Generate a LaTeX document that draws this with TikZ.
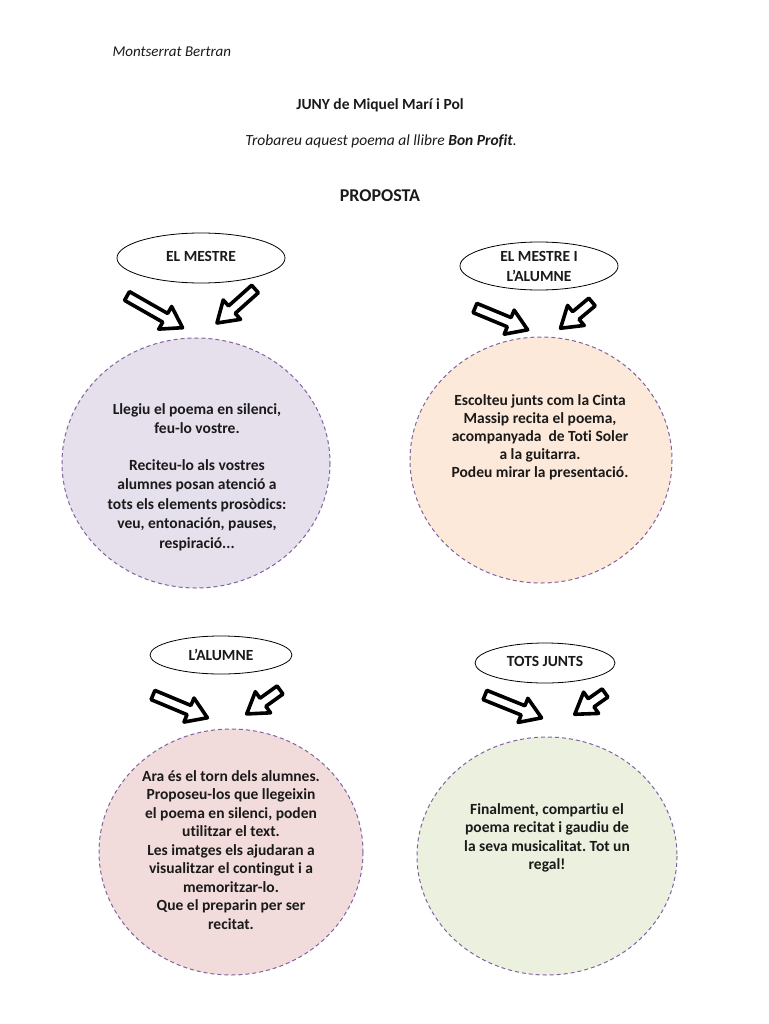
\documentclass[tikz,border=0pt]{standalone}
\usepackage{fontspec}
\setmainfont{Carlito}[Ligatures=NoCommon]
\usetikzlibrary{shapes.geometric}
\frenchspacing
\definecolor{dashc}{HTML}{8064A2}
\definecolor{fpurple}{HTML}{E5E0EC}
\definecolor{forange}{HTML}{FDE9D9}
\definecolor{fpink}{HTML}{F2DCDB}
\definecolor{fgreen}{HTML}{EBF1DE}
\definecolor{txt}{HTML}{1A1A1A}
\newcommand{\blockarr}[4]{%
  \begin{scope}[shift={(#1,#2)},rotate=#3,y=1pt]
    \draw[line width=3.6pt,line join=round,fill=white]
      (0,-5) -- ({#4-20},-5) -- ({#4-20},-13) -- (#4,0) -- ({#4-20},13) -- ({#4-20},5) -- (0,5) -- cycle;
  \end{scope}}
\begin{document}
\begin{tikzpicture}[x=1pt,y=-1pt,
  lbl/.style={inner sep=0pt,font=\fontsize{15.5}{18}\selectfont\bfseries,text=txt,align=center},
  lblring/.style={draw=black,line width=0.8pt},
  bubble/.style={draw=dashc,line width=1pt,dash pattern=on 4pt off 3pt},
  btext/.style={font=\fontsize{15.5}{18.5}\selectfont\bfseries,text=txt,align=center},
  head/.style={font=\fontsize{15.5}{18}\selectfont,text=txt}]
\useasboundingbox (0,0) rectangle (768,1024);
\fill[white] (0,0) rectangle (768,1024);
% header
\node[head,anchor=west,font=\fontsize{15}{17}\selectfont\itshape] (author) at (109,52) {Montserrat Bertran};
\node[head,font=\fontsize{15.5}{18}\selectfont\bfseries] (title) at (380,105) {JUNY de Miquel Marí i Pol};
\node[head,font=\fontsize{15.5}{18}\selectfont\itshape] (sub) at (381,141) {Trobareu aquest poema al llibre \textbf{Bon Profit}.};
\node[head,font=\fontsize{18}{20}\selectfont\bfseries] (prop) at (380,196) {PROPOSTA};
% bubbles
\fill[fpurple] (196,463) ellipse [x radius=134, y radius=125];
\draw[bubble] (196,463) ellipse [x radius=134, y radius=125];
\fill[forange] (541,460) ellipse [x radius=131, y radius=123];
\draw[bubble] (541,460) ellipse [x radius=131, y radius=123];
\fill[fpink] (231,852) ellipse [x radius=132, y radius=123];
\draw[bubble] (231,852) ellipse [x radius=132, y radius=123];
\fill[fgreen] (547,856) ellipse [x radius=130, y radius=119];
\draw[bubble] (547,856) ellipse [x radius=130, y radius=119];
% label ellipses
\draw[lblring] (201,258) ellipse [x radius=84, y radius=25];
\node[lbl] (l1) at (201,256) {EL MESTRE};
\draw[lblring] (539,266) ellipse [x radius=79, y radius=24];
\node[lbl,font=\fontsize{15.5}{20}\selectfont\bfseries] (l2) at (539,266) {EL MESTRE I\\L’ALUMNE};
\draw[lblring] (221,655) ellipse [x radius=71, y radius=19];
\node[lbl] (l3) at (221,655) {L’ALUMNE};
\draw[lblring] (545,663) ellipse [x radius=70, y radius=20];
\node[lbl] (l4) at (545,661) {TOTS JUNTS};
% arrows
\blockarr{127}{296}{-29.7}{64}
\blockarr{255}{289}{-138.2}{51}
\blockarr{475}{308}{-22.5}{57}
\blockarr{592}{302}{-140.2}{41}
\blockarr{153}{695}{-22.7}{59}
\blockarr{280}{690}{-144.3}{41}
\blockarr{485}{695}{-22}{61}
\blockarr{605}{693}{-144.9}{37}
% bubble texts
\node[btext,font=\fontsize{15.5}{19.5}\selectfont\bfseries] (t1) at (197,477) {Llegiu el poema en silenci,\\feu-lo vostre.\\[17pt]Reciteu-lo als vostres\\alumnes posan atenció a\\tots els elements prosòdics:\\veu, entonación, pauses,\\respiració...};
\node[btext,font=\fontsize{15.5}{18}\selectfont\bfseries] (t2) at (540,437) {Escolteu junts com la Cinta\\Massip recita el poema,\\acompanyada\ \ de Toti Soler\\a la guitarra.\\Podeu mirar la presentació.};
\node[btext] (t3) at (231,850) {Ara és el torn dels alumnes.\\Proposeu-los que llegeixin\\el poema en silenci, poden\\utilitzar el text.\\Les imatges els ajudaran a\\visualitzar el contingut i a\\memoritzar-lo.\\Que el preparin per ser\\recitat.};
\node[btext] (t4) at (547,838) {Finalment, compartiu el\\poema recitat i gaudiu de\\la seva musicalitat. Tot un\\regal!};
\end{tikzpicture}
\end{document}
